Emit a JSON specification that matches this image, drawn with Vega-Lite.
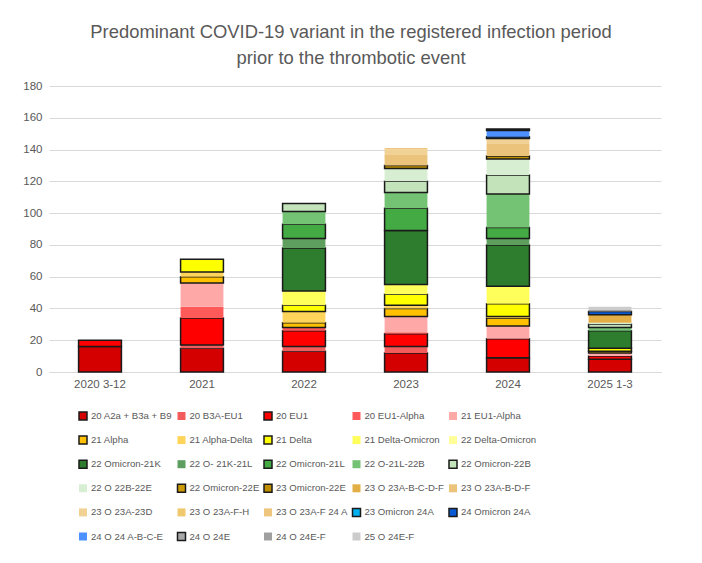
{
  "$schema": "https://vega.github.io/schema/vega-lite/v6.json",
  "width": 612,
  "height": 286,
  "autosize": {"type": "none"},
  "padding": {"left": 49, "top": 86, "right": 41, "bottom": 191},
  "background": "white",
  "title": {
    "text": ["Predominant COVID-19 variant in the registered infection period", "prior to the thrombotic event"],
    "font": "Liberation Sans",
    "fontSize": 18.4,
    "fontWeight": "normal",
    "color": "#595959",
    "anchor": "middle",
    "lineHeight": 26,
    "offset": 13,
    "dx": -4
  },
  "data": {
    "values": [
      {"period": "2020 3-12", "variant": "20 A2a + B3a + B9", "k": 1, "n": 16},
      {"period": "2020 3-12", "variant": "20 EU1", "k": 3, "n": 4},

      {"period": "2021", "variant": "20 A2a + B3a + B9", "k": 1, "n": 15},
      {"period": "2021", "variant": "20 B3A-EU1", "k": 2, "n": 2},
      {"period": "2021", "variant": "20 EU1", "k": 3, "n": 17},
      {"period": "2021", "variant": "20 EU1-Alpha", "k": 4, "n": 7},
      {"period": "2021", "variant": "21 EU1-Alpha", "k": 5, "n": 15},
      {"period": "2021", "variant": "21 Alpha", "k": 6, "n": 4},
      {"period": "2021", "variant": "21 Alpha-Delta", "k": 7, "n": 3},
      {"period": "2021", "variant": "21 Delta", "k": 8, "n": 8},

      {"period": "2022", "variant": "20 A2a + B3a + B9", "k": 1, "n": 13},
      {"period": "2022", "variant": "20 B3A-EU1", "k": 2, "n": 3},
      {"period": "2022", "variant": "20 EU1", "k": 3, "n": 10},
      {"period": "2022", "variant": "20 EU1-Alpha", "k": 4, "n": 2},
      {"period": "2022", "variant": "21 Alpha", "k": 6, "n": 3},
      {"period": "2022", "variant": "21 Alpha-Delta", "k": 7, "n": 7},
      {"period": "2022", "variant": "21 Delta", "k": 8, "n": 4},
      {"period": "2022", "variant": "21 Delta-Omicron", "k": 9, "n": 9},
      {"period": "2022", "variant": "22 Omicron-21K", "k": 11, "n": 27},
      {"period": "2022", "variant": "22 O- 21K-21L", "k": 12, "n": 6},
      {"period": "2022", "variant": "22 Omicron-21L", "k": 13, "n": 9},
      {"period": "2022", "variant": "22 O-21L-22B", "k": 14, "n": 8},
      {"period": "2022", "variant": "22 Omicron-22B", "k": 15, "n": 5},

      {"period": "2023", "variant": "20 A2a + B3a + B9", "k": 1, "n": 12},
      {"period": "2023", "variant": "20 B3A-EU1", "k": 2, "n": 4},
      {"period": "2023", "variant": "20 EU1", "k": 3, "n": 8},
      {"period": "2023", "variant": "20 EU1-Alpha", "k": 4, "n": 1},
      {"period": "2023", "variant": "21 EU1-Alpha", "k": 5, "n": 10},
      {"period": "2023", "variant": "21 Alpha", "k": 6, "n": 5},
      {"period": "2023", "variant": "21 Alpha-Delta", "k": 7, "n": 2},
      {"period": "2023", "variant": "21 Delta", "k": 8, "n": 7},
      {"period": "2023", "variant": "21 Delta-Omicron", "k": 9, "n": 6},
      {"period": "2023", "variant": "22 Omicron-21K", "k": 11, "n": 34},
      {"period": "2023", "variant": "22 Omicron-21L", "k": 13, "n": 14},
      {"period": "2023", "variant": "22 O-21L-22B", "k": 14, "n": 10},
      {"period": "2023", "variant": "22 Omicron-22B", "k": 15, "n": 7},
      {"period": "2023", "variant": "22 O 22B-22E", "k": 16, "n": 8},
      {"period": "2023", "variant": "23 Omicron-22E", "k": 18, "n": 2},
      {"period": "2023", "variant": "23 O 23A-B-D-F", "k": 20, "n": 7},
      {"period": "2023", "variant": "23 O 23A-23D", "k": 21, "n": 3},
      {"period": "2023", "variant": "23 O 23A-F 24 A", "k": 23, "n": 1},

      {"period": "2024", "variant": "20 A2a + B3a + B9", "k": 1, "n": 9},
      {"period": "2024", "variant": "20 EU1", "k": 3, "n": 12},
      {"period": "2024", "variant": "21 EU1-Alpha", "k": 5, "n": 8},
      {"period": "2024", "variant": "21 Alpha", "k": 6, "n": 5},
      {"period": "2024", "variant": "21 Alpha-Delta", "k": 7, "n": 1},
      {"period": "2024", "variant": "21 Delta", "k": 8, "n": 8},
      {"period": "2024", "variant": "21 Delta-Omicron", "k": 9, "n": 11},
      {"period": "2024", "variant": "22 Omicron-21K", "k": 11, "n": 26},
      {"period": "2024", "variant": "22 O- 21K-21L", "k": 12, "n": 4},
      {"period": "2024", "variant": "22 Omicron-21L", "k": 13, "n": 7},
      {"period": "2024", "variant": "22 O-21L-22B", "k": 14, "n": 21},
      {"period": "2024", "variant": "22 Omicron-22B", "k": 15, "n": 12},
      {"period": "2024", "variant": "22 O 22B-22E", "k": 16, "n": 10},
      {"period": "2024", "variant": "23 Omicron-22E", "k": 18, "n": 2},
      {"period": "2024", "variant": "23 O 23A-B-D-F", "k": 20, "n": 8},
      {"period": "2024", "variant": "23 O 23A-23D", "k": 21, "n": 3},
      {"period": "2024", "variant": "24 Omicron 24A", "k": 25, "n": 1},
      {"period": "2024", "variant": "24 O 24 A-B-C-E", "k": 26, "n": 4},
      {"period": "2024", "variant": "24 O 24E", "k": 27, "n": 1},

      {"period": "2025 1-3", "variant": "20 A2a + B3a + B9", "k": 1, "n": 8},
      {"period": "2025 1-3", "variant": "20 EU1", "k": 3, "n": 2},
      {"period": "2025 1-3", "variant": "21 EU1-Alpha", "k": 5, "n": 2},
      {"period": "2025 1-3", "variant": "21 Alpha", "k": 6, "n": 1},
      {"period": "2025 1-3", "variant": "21 Delta", "k": 8, "n": 2},
      {"period": "2025 1-3", "variant": "22 Omicron-21K", "k": 11, "n": 11},
      {"period": "2025 1-3", "variant": "22 O-21L-22B", "k": 14, "n": 2},
      {"period": "2025 1-3", "variant": "22 Omicron-22B", "k": 15, "n": 2},
      {"period": "2025 1-3", "variant": "22 O 22B-22E", "k": 16, "n": 1},
      {"period": "2025 1-3", "variant": "23 O 23A-B-C-D-F", "k": 19, "n": 5},
      {"period": "2025 1-3", "variant": "24 Omicron 24A", "k": 25, "n": 2},
      {"period": "2025 1-3", "variant": "24 O 24E-F", "k": 28, "n": 1},
      {"period": "2025 1-3", "variant": "25 O 24E-F", "k": 29, "n": 2}
    ]
  },
  "mark": {"type": "bar", "strokeWidth": 1.5},
  "encoding": {
    "x": {
      "field": "period",
      "type": "nominal",
      "sort": null,
      "scale": {"paddingInner": 0.58, "paddingOuter": 0.29},
      "axis": {
        "title": null,
        "labelAngle": 0,
        "labelColor": "#595959",
        "labelFont": "Liberation Sans",
        "labelFontSize": 11.5,
        "labelPadding": 6,
        "ticks": false,
        "tickSize": 0,
        "domainColor": "#D9D9D9",
        "domainWidth": 1,
        "grid": false
      }
    },
    "y": {
      "field": "n",
      "type": "quantitative",
      "stack": "zero",
      "scale": {"domain": [0, 180], "nice": false},
      "axis": {
        "title": null,
        "values": [0, 20, 40, 60, 80, 100, 120, 140, 160, 180],
        "labelColor": "#595959",
        "labelFont": "Liberation Sans",
        "labelFontSize": 11.5,
        "labelPadding": 7,
        "ticks": false,
        "tickSize": 0,
        "domain": false,
        "grid": true,
        "gridColor": "#D9D9D9",
        "gridWidth": 1
      }
    },
    "fill": {
      "field": "variant",
      "type": "nominal",
      "scale": {
        "domain": [
          "20 A2a + B3a + B9", "20 B3A-EU1", "20 EU1", "20 EU1-Alpha", "21 EU1-Alpha",
          "21 Alpha", "21 Alpha-Delta", "21 Delta", "21 Delta-Omicron", "22 Delta-Omicron",
          "22 Omicron-21K", "22 O- 21K-21L", "22 Omicron-21L", "22 O-21L-22B", "22 Omicron-22B",
          "22 O 22B-22E", "22 Omicron-22E", "23 Omicron-22E", "23 O 23A-B-C-D-F", "23 O 23A-B-D-F",
          "23 O 23A-23D", "23 O 23A-F-H", "23 O 23A-F 24 A", "23 Omicron 24A", "24 Omicron 24A",
          "24 O 24 A-B-C-E", "24 O 24E", "24 O 24E-F", "25 O 24E-F"
        ],
        "range": [
          "#D40000", "#F25C5C", "#FF0000", "#FF5A5A", "#FFA8A8",
          "#FFC000", "#FFD45A", "#FFFF00", "#FFFF5C", "#FFFF99",
          "#2E7D2E", "#5E9E5E", "#44AA44", "#74C274", "#C3E3BA",
          "#D8EED2", "#CC9A06", "#C08F00", "#E3AE45", "#EBC37A",
          "#F1D194", "#F0C86E", "#EEC57C", "#00B0F0", "#0A5AD6",
          "#4D90FF", "#A8A8A8", "#A0A0A0", "#CCCCCC"
        ]
      },
      "legend": {
        "title": null,
        "orient": "none",
        "legendX": 29,
        "legendY": 325,
        "direction": "horizontal",
        "columns": 5,
        "gridAlign": "each",
        "columnPadding": 1.5,
        "rowPadding": 10.1,
        "symbolType": "square",
        "symbolSize": 64,
        "symbolStrokeWidth": 1.5,
        "labelFont": "Liberation Sans",
        "labelFontSize": 9.6,
        "labelColor": "#595959",
        "labelOffset": 3,
        "labelLimit": 200
      }
    },
    "stroke": {
      "field": "variant",
      "type": "nominal",
      "scale": {
        "domain": [
          "20 A2a + B3a + B9", "20 B3A-EU1", "20 EU1", "20 EU1-Alpha", "21 EU1-Alpha",
          "21 Alpha", "21 Alpha-Delta", "21 Delta", "21 Delta-Omicron", "22 Delta-Omicron",
          "22 Omicron-21K", "22 O- 21K-21L", "22 Omicron-21L", "22 O-21L-22B", "22 Omicron-22B",
          "22 O 22B-22E", "22 Omicron-22E", "23 Omicron-22E", "23 O 23A-B-C-D-F", "23 O 23A-B-D-F",
          "23 O 23A-23D", "23 O 23A-F-H", "23 O 23A-F 24 A", "23 Omicron 24A", "24 Omicron 24A",
          "24 O 24 A-B-C-E", "24 O 24E", "24 O 24E-F", "25 O 24E-F"
        ],
        "range": [
          "#1A1A1A", "transparent", "#1A1A1A", "transparent", "transparent",
          "#1A1A1A", "transparent", "#1A1A1A", "transparent", "transparent",
          "#1A1A1A", "transparent", "#1A1A1A", "transparent", "#1A1A1A",
          "transparent", "#1A1A1A", "#1A1A1A", "transparent", "transparent",
          "transparent", "transparent", "transparent", "#1A1A1A", "#1A1A1A",
          "transparent", "#1A1A1A", "transparent", "transparent"
        ]
      }
    },
    "order": {"field": "k", "type": "quantitative"}
  },
  "config": {
    "view": {"stroke": null}
  }
}
